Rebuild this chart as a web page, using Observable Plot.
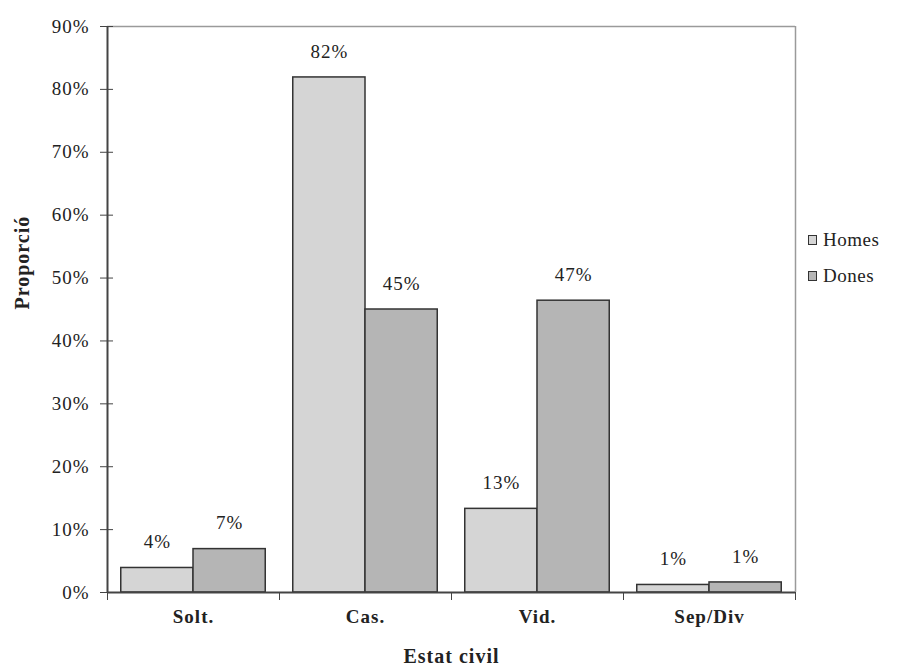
<!DOCTYPE html>
<html>
<head>
<meta charset="utf-8">
<script src="https://cdn.jsdelivr.net/npm/d3@7"></script>
<script src="https://cdn.jsdelivr.net/npm/@observablehq/plot@0.6"></script>
<style>
  body { margin: 0; background: #fff; }
  #wrap { position: relative; width: 898px; height: 666px; font-family: "Liberation Serif", "Times New Roman", serif; }
  #legend { position: absolute; left: 808px; top: 222px; font-size: 19px; color: #222; letter-spacing: 0.5px; }
  .li { display: flex; align-items: center; height: 36px; }
  .sw { width: 9px; height: 10px; border: 1px solid #333; margin-right: 6px; box-sizing: border-box; }
  svg text { letter-spacing: 1px; }
</style>
</head>
<body>
<div id="wrap"></div>
<script>
const categories = ["Solt.", "Cas.", "Vid.", "Sep/Div"];
const series = ["Homes", "Dones"];
const homes = [3.9, 81.9, 13.3, 1.2];
const dones = [6.9, 45.0, 46.4, 1.6];
const homesLabels = ["4%", "82%", "13%", "1%"];
const donesLabels = ["7%", "45%", "47%", "1%"];
const yTicks = [0, 10, 20, 30, 40, 50, 60, 70, 80, 90];
const colors = ["#d5d5d5", "#b5b5b5"];

const data = [];
categories.forEach((c, i) => {
  data.push({cat: c, i, series: "Homes", value: homes[i], label: homesLabels[i], x1: i + 0.08, x2: i + 0.5});
  data.push({cat: c, i, series: "Dones", value: dones[i], label: donesLabels[i], x1: i + 0.5, x2: i + 0.92});
});
const bounds = d3.range(categories.length + 1);
const centers = categories.map((c, i) => i + 0.5);

const font = "Liberation Serif";
const chart = Plot.plot({
  width: 898,
  height: 666,
  marginLeft: 107,
  marginRight: 103,
  marginTop: 26,
  marginBottom: 74,
  style: {fontFamily: font, fontSize: "19px", color: "#222", background: "white"},
  x: {type: "linear", domain: [0, categories.length]},
  y: {type: "linear", domain: [0, 90]},
  color: {domain: series, range: colors},
  marks: [
    Plot.ruleY([90], {stroke: "#9a9a9a", strokeWidth: 1.5}),
    Plot.ruleX([categories.length], {stroke: "#9a9a9a", strokeWidth: 1.5}),
    Plot.rectY(data, {x1: "x1", x2: "x2", y: "value", fill: "series", stroke: "#333", strokeWidth: 1.5}),
    Plot.text(data, {x: d => (d.x1 + d.x2) / 2, y: "value", text: "label", dy: -26, fontSize: 19, fill: "#222"}),
    Plot.ruleX([0], {stroke: "#444", strokeWidth: 2}),
    Plot.ruleY([0], {stroke: "#444", strokeWidth: 2}),
    Plot.axisY({ticks: yTicks, tickFormat: d => d + "%", tickSize: 7, tickPadding: 11, fontSize: 19, stroke: "#444", label: null}),
    Plot.ruleY(yTicks, {x1: 0, x2: 0.035, stroke: "#444"}),
    Plot.axisX({ticks: bounds, tickFormat: () => "", tickSize: 8, stroke: "#444", label: null}),
    Plot.axisX({ticks: centers, tickFormat: d => categories[Math.floor(d)], tickSize: 0, tickPadding: 17, fontSize: 19, fontWeight: "bold", label: null}),
    Plot.text(["Estat civil"], {frameAnchor: "bottom", dy: 70, fontSize: 20, fontWeight: "bold", fill: "#222"}),
    Plot.text(["Proporció"], {frameAnchor: "left", dx: -85, rotate: -90, fontSize: 20, fontWeight: "bold", fill: "#222"})
  ]
});
const wrap = document.getElementById("wrap");
wrap.appendChild(chart);

const legend = document.createElement("div");
legend.id = "legend";
series.forEach((s, k) => {
  const li = document.createElement("div");
  li.className = "li";
  li.innerHTML = `<span class="sw" style="background:${colors[k]}"></span><span>${s}</span>`;
  legend.appendChild(li);
});
wrap.appendChild(legend);
</script>
</body>
</html>
